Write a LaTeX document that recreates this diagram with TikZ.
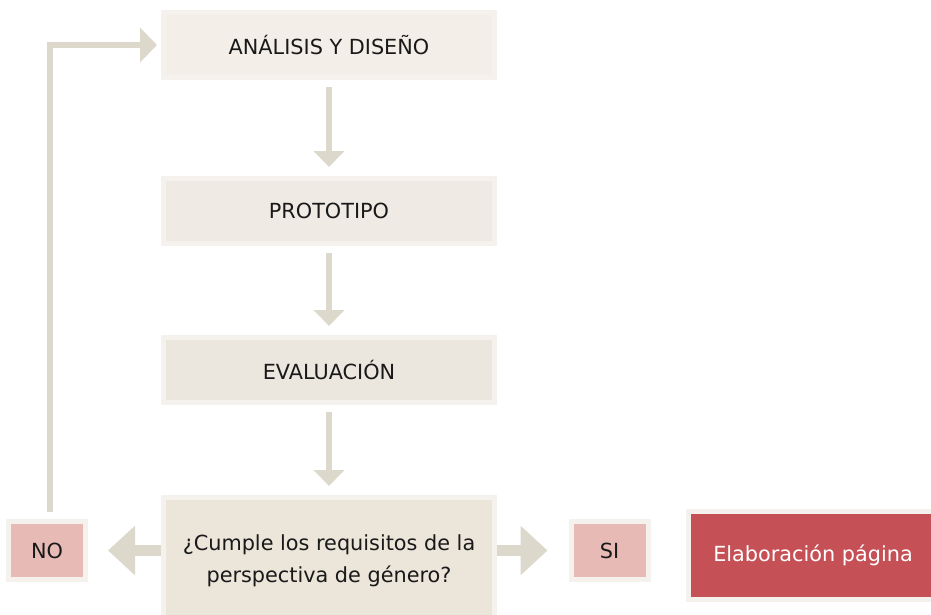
\documentclass[tikz,border=0pt]{standalone}
\usepackage{fontspec}
\setmainfont{DejaVu Sans}
\usetikzlibrary{arrows.meta}
\definecolor{cream}{HTML}{F5F2ED}
\definecolor{taupe}{HTML}{DDD8CC}
\definecolor{fillA}{HTML}{F3EFE8}
\definecolor{fillB}{HTML}{EFEBE4}
\definecolor{fillC}{HTML}{ECE7DE}
\definecolor{fillD}{HTML}{EBE5DA}
\definecolor{pinkbox}{HTML}{E8BAB6}
\definecolor{redbox}{HTML}{C55157}
\begin{document}
\begin{tikzpicture}[x=1pt,y=-1pt,
    stage/.style={draw=cream,line width=5pt,minimum width=331pt,minimum height=65pt,font=\fontsize{20.8}{24}\selectfont,text=black!90},
    answer/.style={draw=cream,fill=pinkbox,line width=5pt,minimum width=77pt,minimum height=58pt,font=\fontsize{20.8}{24}\selectfont,text=black!90},
    flow/.style={taupe,line width=5.5pt,-{Triangle[length=16pt,width=30pt]},shorten <=7pt,shorten >=9pt},
    branch/.style={taupe,line width=11pt,-{Triangle[length=27pt,width=48pt]}}]
    \useasboundingbox (0,0) rectangle (931,615);
    \clip (0,0) rectangle (931,615);

    \node[stage,fill=fillA] (analisis) at (329,45) {ANÁLISIS Y DISEÑO};
    \node[stage,fill=fillB] (proto) at (329,211) {PROTOTIPO};
    \node[stage,fill=fillC] (eval) at (329,370) {EVALUACIÓN};
    \node[stage,fill=fillD,minimum height=127pt,align=center,font=\fontsize{20.8}{32}\selectfont] (cumple) at (329,561)
        {¿Cumple los requisitos de la\\perspectiva de género?};
    \node[answer] (no) at (47,550.5) {NO};
    \node[answer] (si) at (609.5,550.5) {SI};
    \node[draw=cream,fill=redbox,line width=5pt,minimum width=249pt,minimum height=88pt,
        font=\fontsize{20.8}{24}\selectfont,text=white] (pagina) at (813,555.5) {Elaboración página};

    \draw[flow] (analisis) -- (proto);
    \draw[flow] (proto) -- (eval);
    \draw[flow] (eval) -- (cumple);
    \draw[branch] (cumple.west |- no) -- ([xshift=20pt]no.east);
    \draw[branch] (cumple.east |- si) -- ([xshift=-21pt]si.west);
    \draw[taupe,line width=6pt,-{Triangle[length=17pt,width=34pt]},shorten <=7pt,shorten >=4pt]
        ([xshift=3pt]no.north) |- (analisis.west);
\end{tikzpicture}
\end{document}
